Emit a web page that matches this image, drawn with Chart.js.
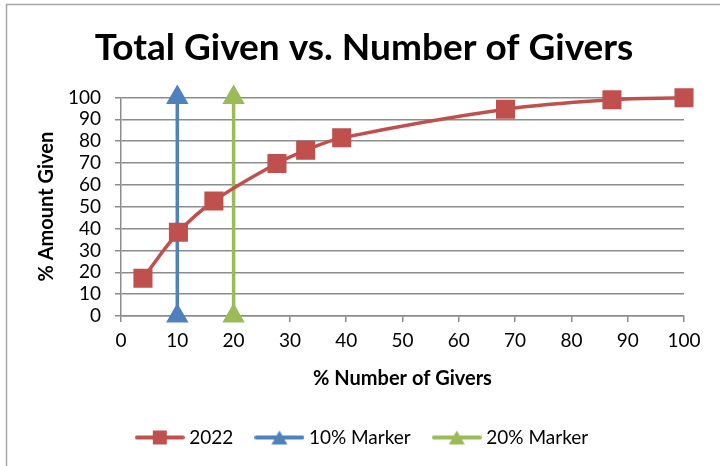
<!DOCTYPE html>
<html>
<head>
<meta charset="utf-8">
<script src="https://cdn.jsdelivr.net/npm/chart.js@4"></script>
<style>
  html, body { margin: 0; padding: 0; background: #fff; }
  #wrap { position: relative; width: 720px; height: 466px; }
</style>
</head>
<body>
<div id="wrap"><canvas id="givers"></canvas></div>
<script>
// data
var giversPct = [3.9, 10.2, 16.5, 27.7, 32.8, 39.2, 68.3, 87.2, 100];
var amountPct = [17.3, 38.3, 52.6, 69.8, 75.8, 81.5, 94.6, 98.9, 99.8];
var marker10X = [10, 10];
var marker20X = [20, 20];
var markerY = [0, 100];
var seriesNames = ['2022', '10% Marker', '20% Marker'];

var red = '#C0504D', blue = '#4F81BD', green = '#9BBB59';
var font = 'Lato';

function toPoints(xs, ys) {
    return xs.map(function (x, i) { return { x: x, y: ys[i] }; });
}

// legend icon: line with the marker in the middle, like Excel
function legendIcon(color, shape) {
    var c = document.createElement('canvas');
    c.width = 50; c.height = 18;
    var g = c.getContext('2d');
    g.strokeStyle = color;
    g.lineWidth = 4;
    g.lineCap = 'round';
    g.beginPath(); g.moveTo(2, 9); g.lineTo(48, 9); g.stroke();
    g.fillStyle = color;
    if (shape === 'rect') {
        g.fillRect(18, 2, 14, 14);
    } else {
        g.beginPath(); g.moveTo(25, 2); g.lineTo(33, 16); g.lineTo(17, 16); g.closePath(); g.fill();
    }
    return c;
}
var icons = [legendIcon(red, 'rect'), legendIcon(blue, 'tri'), legendIcon(green, 'tri')];

var frame = {
    id: 'frame',
    beforeDraw: function (chart) {
        var ctx = chart.ctx;
        ctx.save();
        ctx.strokeStyle = '#a6a6a6';
        ctx.lineWidth = 1.5;
        ctx.strokeRect(6.5, 4.5, 800, 600);
        ctx.restore();
    }
};

var ctx = document.getElementById('givers');
var myChart = new Chart(ctx, {
    type: 'scatter',
    data: {
        datasets: [{
            label: seriesNames[0],
            data: toPoints(giversPct, amountPct),
            showLine: true,
            tension: 0.35,
            borderColor: red,
            backgroundColor: red,
            borderWidth: 3.5,
            pointStyle: 'rect',
            pointRadius: 11,
            pointHoverRadius: 11
        }, {
            label: seriesNames[1],
            data: toPoints(marker10X, markerY),
            showLine: true,
            borderColor: blue,
            backgroundColor: blue,
            borderWidth: 3.5,
            pointStyle: 'triangle',
            pointRadius: 9.5,
            pointHoverRadius: 9.5
        }, {
            label: seriesNames[2],
            data: toPoints(marker20X, markerY),
            showLine: true,
            borderColor: green,
            backgroundColor: green,
            borderWidth: 3.5,
            pointStyle: 'triangle',
            pointRadius: 9.5,
            pointHoverRadius: 9.5
        }]
    },
    options: {
        responsive: true,
        maintainAspectRatio: false,
        animation: false,
        clip: false,
        layout: { padding: { left: 44, right: 36, top: 0, bottom: 9 } },
        plugins: {
            title: {
                display: true,
                text: 'Total Given vs. Number of Givers',
                color: '#000',
                font: { family: font, size: 37, weight: 'bold' },
                padding: { top: 26, bottom: 27 }
            },
            legend: {
                position: 'bottom',
                labels: {
                    color: '#000',
                    font: { family: font, size: 19 },
                    usePointStyle: true,
                    pointStyleWidth: 40,
                    padding: 26,
                    generateLabels: function (chart) {
                        var items = Chart.defaults.plugins.legend.labels.generateLabels(chart);
                        items.forEach(function (it, i) { it.pointStyle = icons[i]; });
                        return items;
                    }
                }
            },
            tooltip: { enabled: false }
        },
        scales: {
            x: {
                type: 'linear',
                min: 0,
                max: 100,
                afterFit: function (scale) { scale.height = 86; },
                ticks: {
                    stepSize: 10,
                    color: '#000',
                    padding: 7,
                    maxRotation: 0,
                    font: { family: font, size: 19 }
                },
                grid: { drawOnChartArea: false, tickLength: 6, color: '#8c8c8c', lineWidth: 1.5 },
                border: { color: '#8c8c8c', width: 1.5 },
                title: {
                    display: true,
                    text: '% Number of Givers',
                    color: '#000',
                    font: { family: font, size: 20, weight: 'bold' },
                    padding: { top: 4, bottom: 11 }
                }
            },
            y: {
                min: 0,
                max: 100,
                afterFit: function (scale) { scale.width = 77; },
                ticks: {
                    stepSize: 10,
                    autoSkip: false,
                    color: '#000',
                    padding: 14,
                    font: { family: font, size: 19 }
                },
                grid: { tickLength: 6, color: '#8c8c8c', lineWidth: 1.5 },
                border: { color: '#8c8c8c', width: 1.5 },
                title: {
                    display: true,
                    text: '% Amount Given',
                    color: '#000',
                    font: { family: font, size: 20, weight: 'bold' },
                    padding: { top: -9, bottom: 0 }
                }
            }
        }
    },
    plugins: [frame]
});
</script>
</body>
</html>
